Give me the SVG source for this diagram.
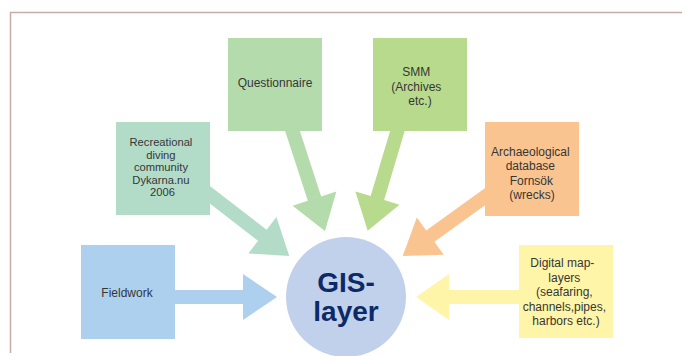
<svg xmlns="http://www.w3.org/2000/svg" width="682" height="356" viewBox="0 0 682 356">
<style>
.lbl{font-family:"Liberation Sans",Arial,sans-serif;font-size:12px;fill:#363636;text-anchor:middle}
.frame{stroke:#c9aaa4;stroke-width:1.5;fill:none}
.gis{font-family:"Liberation Sans",Arial,sans-serif;font-size:28px;font-weight:bold;fill:#0d2a68;text-anchor:middle}
</style>
<rect width="682" height="356" fill="#ffffff"/>
<path class="frame" d="M10.5,353 V12.5 H682"/>
<g id="connectors">
<polygon fill="#acd0ee" points="277,297 243,274 243,290 175,290 175,304 243,304 243,320"/>
<polygon fill="#fff5a8" points="416,297 449,274 449,290 519,290 519,304 449,304 449,320"/>
<polygon fill="#b3dcc8" points="0,0 -34,-23 -34,-7 -106,-7 -106,7 -34,7 -34,23" transform="translate(289.3,256) rotate(37.6)"/>
<polygon fill="#b4dbac" points="0,0 -34,-23 -34,-7 -113,-7 -113,7 -34,7 -34,23" transform="translate(325,231) rotate(72)"/>
<polygon fill="#b8da8c" points="0,0 -34,-23 -34,-7 -112,-7 -112,7 -34,7 -34,23" transform="translate(367.7,230.7) rotate(106.6)"/>
<polygon fill="#fac491" points="0,0 -34,-23 -34,-7 -108,-7 -108,7 -34,7 -34,23" transform="translate(402.7,256) rotate(144.2)"/>
</g>
<g id="fieldwork">
<rect x="81" y="245" width="94" height="94" fill="#acd0ee"/>
<text class="lbl" x="127" y="297">Fieldwork</text>
</g>
<g id="recreational">
<rect x="116" y="122" width="94" height="93" fill="#b3dcc8"/>
<text class="lbl" style="font-size:11.2px" x="162.5">
<tspan x="162.5" y="146">Recreational</tspan>
<tspan x="162.5" y="158.5">diving</tspan>
<tspan x="162.5" y="171">community</tspan>
<tspan x="162.5" y="183.5">Dykarna.nu</tspan>
<tspan x="162.5" y="196">2006</tspan>
</text>
</g>
<g id="questionnaire">
<rect x="228" y="38" width="94" height="93" fill="#b4dbac"/>
<text class="lbl" x="275" y="87">Questionnaire</text>
</g>
<g id="smm">
<rect x="373" y="38" width="94" height="93" fill="#b8da8c"/>
<text class="lbl">
<tspan x="418" y="76">SMM</tspan>
<tspan x="418" y="90.5">(Archives</tspan>
<tspan x="420" y="105">etc.)</tspan>
</text>
</g>
<g id="archaeological">
<rect x="485" y="122" width="94" height="94" fill="#fac491"/>
<text class="lbl">
<tspan x="532" y="156">Archaeological</tspan>
<tspan x="532" y="169.5">database</tspan>
<tspan x="533" y="185">Fornsök</tspan>
<tspan x="532" y="198.5">(wrecks)</tspan>
</text>
</g>
<g id="digital">
<rect x="519" y="245" width="94" height="93" fill="#fff5a8"/>
<text class="lbl">
<tspan x="564" y="267">Digital map-</tspan>
<tspan x="566" y="281.5">layers</tspan>
<tspan x="566" y="296">(seafaring,</tspan>
<tspan x="566" y="310.5">channels,pipes,</tspan>
<tspan x="566" y="324.5">harbors etc.)</tspan>
</text>
</g>
<g id="gis">
<circle cx="346" cy="297" r="60" fill="#c1d1ec"/>
<text class="gis" x="346" y="292">GIS-</text>
<text class="gis" x="346" y="321">layer</text>
</g>
</svg>
